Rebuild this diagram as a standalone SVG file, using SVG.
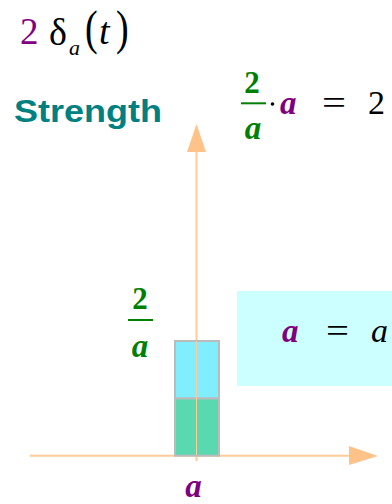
<svg xmlns="http://www.w3.org/2000/svg" width="392" height="504" viewBox="0 0 392 504">
<style>
.t{font-family:"Liberation Serif",serif}
.bi{font-family:"Liberation Serif",serif;font-weight:bold;font-style:italic}
.b{font-family:"Liberation Serif",serif;font-weight:bold}
.i{font-family:"Liberation Serif",serif;font-style:italic}
.pur{fill:#800080}
.grn{fill:#008000}
.axis{stroke:#ffcc99;stroke-width:2;fill:none}
.head{fill:#ffc38a}
</style>
<rect width="392" height="504" fill="#ffffff"/>
<g id="title">
<text x="20" y="44" class="t pur" font-size="37">2</text>
<text x="49" y="45" class="t" font-size="38">δ</text>
<text x="69" y="54.5" class="i" font-size="22">a</text>
<text x="85" y="44.5" class="t" font-size="38" transform="translate(85 44.5) scale(1 1.25) translate(-85 -44.5)">(</text>
<text x="99" y="44" class="i" font-size="38">t</text>
<text x="116" y="44.5" class="t" font-size="38" transform="translate(116 44.5) scale(1 1.25) translate(-116 -44.5)">)</text>
</g>
<g id="strength">
<text x="14" y="122" font-family="Liberation Sans,Arial,sans-serif" font-weight="bold" font-size="31" fill="#008080" textLength="148" lengthAdjust="spacingAndGlyphs">Strength</text>
</g>
<g id="formula">
<text x="252" y="93" class="b grn" font-size="31" text-anchor="middle">2</text>
<line x1="241" y1="103.3" x2="266" y2="103.3" stroke="#008000" stroke-width="2"/>
<text x="253" y="139" class="bi grn" font-size="33" text-anchor="middle">a</text>
<circle cx="272.5" cy="104" r="1.8" fill="#000"/>
<text x="280" y="114" class="bi pur" font-size="33">a</text>
<text x="322" y="114" class="t" font-size="34" textLength="24" lengthAdjust="spacingAndGlyphs">=</text>
<text x="368" y="114" class="t" font-size="34">2</text>
</g>
<g id="connectors">
<line class="axis" x1="30" y1="455.7" x2="352" y2="455.7"/>
<polygon class="head" points="349,446 378,456 349,465"/>
<line class="axis" x1="196.5" y1="150" x2="196.5" y2="461"/>
<polygon class="head" points="187,152 196.5,124 206,152"/>
</g>
<g id="bar">
<rect x="175" y="341" width="44" height="57.5" fill="#80eeff" stroke="#bbbbbb" stroke-width="2"/>
<rect x="175" y="398.5" width="44" height="57.2" fill="#5ad9b0" stroke="#bbbbbb" stroke-width="2"/>
<line x1="196.5" y1="341" x2="196.5" y2="455" stroke="#ffcc99" stroke-width="1"/>
</g>
<g id="ylabel">
<text x="140" y="309" class="b grn" font-size="31" text-anchor="middle">2</text>
<line x1="128" y1="320" x2="153" y2="320" stroke="#008000" stroke-width="2"/>
<text x="140" y="357" class="bi grn" font-size="33" text-anchor="middle">a</text>
</g>
<g id="xlabel">
<text x="193.5" y="497" class="bi pur" font-size="33" text-anchor="middle">a</text>
</g>
<g id="infobox">
<rect x="237" y="291" width="160" height="95" fill="#ccffff"/>
<text x="282" y="342" class="bi pur" font-size="33">a</text>
<text x="326" y="342" class="t" font-size="34" textLength="23" lengthAdjust="spacingAndGlyphs">=</text>
<text x="371" y="342" class="i" font-size="34">a</text>
</g>
</svg>
